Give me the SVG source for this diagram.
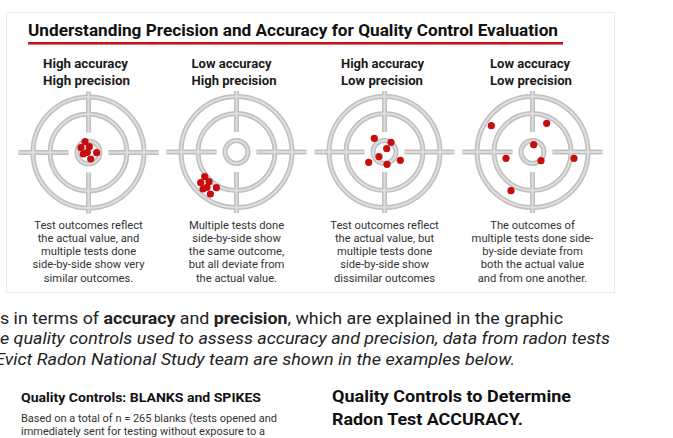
<svg xmlns="http://www.w3.org/2000/svg" xmlns:xlink="http://www.w3.org/1999/xlink" width="673" height="438" viewBox="0 0 673 438">
<style>
.rd{fill:none;stroke:#bfbfbf;stroke-width:5}
.rl{fill:none;stroke:#dedede;stroke-width:2}
.dot{fill:#c70d0d}
.title{font-family:Roboto,"Liberation Sans",sans-serif;font-weight:bold;font-size:16.5px;fill:#111}
.hd{font-family:Roboto,"Liberation Sans",sans-serif;font-weight:bold;font-size:12.5px;fill:#1a1a1a}
.desc{font-family:Roboto,"Liberation Sans",sans-serif;font-size:11.2px;fill:#333;text-anchor:middle}
.body{font-family:Roboto,"Liberation Sans",sans-serif;font-size:17px;fill:#222}
.it{font-style:italic}
.b{font-weight:bold}
.h2{font-family:Roboto,"Liberation Sans",sans-serif;font-weight:bold;font-size:12px;fill:#111}
.h1{font-family:Roboto,"Liberation Sans",sans-serif;font-weight:bold;font-size:16.5px;fill:#111}
.small{font-family:Roboto,"Liberation Sans",sans-serif;font-size:10px;fill:#333}
</style>
<defs>
<g id="target">
<g class="rd"><circle r="55.5"/><circle r="38.5"/><circle r="11.5"/><path d="M-70 0H-20M20 0H70M0-61V-20M0 20V61"/></g>
<g class="rl"><circle r="55.5"/><circle r="38.5"/><circle r="11.5"/><path d="M-70 0H-20M20 0H70M0-61V-20M0 20V61"/></g>
</g>
</defs>
<rect x="0" y="0" width="673" height="438" fill="#fff"/>
<rect id="panel" x="6.5" y="12.5" width="608" height="280" fill="#fff" stroke="#ebebeb" stroke-width="1"/>
<g id="header">
<text class="title" x="28" y="35.5" textLength="530" lengthAdjust="spacingAndGlyphs">Understanding Precision and Accuracy for Quality Control Evaluation</text>
<rect x="28" y="42" width="535" height="2.6" fill="#c8141a"/>
</g>
<g id="col1">
<text class="hd" x="43" y="68" textLength="85" lengthAdjust="spacingAndGlyphs">High accuracy</text>
<text class="hd" x="43" y="84.5" textLength="87" lengthAdjust="spacingAndGlyphs">High precision</text>
<use xlink:href="#target" href="#target" x="88.5" y="152.5"/>
<g class="dot"><circle cx="85" cy="141.7" r="3.6"/><circle cx="81" cy="147.7" r="3.6"/><circle cx="89.3" cy="146.7" r="3.6"/><circle cx="96.7" cy="152.7" r="3.6"/><circle cx="83.3" cy="154" r="3.6"/><circle cx="90.7" cy="159" r="3.6"/><circle cx="87.3" cy="152.3" r="3.6"/></g>
<text class="desc" x="88.5" y="229">Test outcomes reflect</text>
<text class="desc" x="88.5" y="242.2">the actual value, and</text>
<text class="desc" x="88.5" y="255.3">multiple tests done</text>
<text class="desc" x="88.5" y="268.4">side-by-side show very</text>
<text class="desc" x="88.5" y="281.5">similar outcomes.</text>
</g>
<g id="col2">
<text class="hd" x="191.5" y="68" textLength="80" lengthAdjust="spacingAndGlyphs">Low accuracy</text>
<text class="hd" x="191.5" y="84.5" textLength="85" lengthAdjust="spacingAndGlyphs">High precision</text>
<use xlink:href="#target" href="#target" x="236.5" y="152"/>
<g class="dot"><circle cx="204.7" cy="176.7" r="3.6"/><circle cx="200.7" cy="182.7" r="3.6"/><circle cx="209" cy="181.7" r="3.6"/><circle cx="216.4" cy="187.7" r="3.6"/><circle cx="203" cy="189" r="3.6"/><circle cx="210.4" cy="194" r="3.6"/><circle cx="207" cy="187.3" r="3.6"/></g>
<text class="desc" x="236.5" y="229">Multiple tests done</text>
<text class="desc" x="236.5" y="242.2">side-by-side show</text>
<text class="desc" x="236.5" y="255.3">the same outcome,</text>
<text class="desc" x="236.5" y="268.4">but all deviate from</text>
<text class="desc" x="236.5" y="281.5">the actual value.</text>
</g>
<g id="col3">
<text class="hd" x="341" y="68" textLength="83" lengthAdjust="spacingAndGlyphs">High accuracy</text>
<text class="hd" x="341" y="84.5" textLength="82" lengthAdjust="spacingAndGlyphs">Low precision</text>
<use xlink:href="#target" href="#target" x="384.5" y="152"/>
<g class="dot"><circle cx="374.3" cy="138.3" r="3.6"/><circle cx="391" cy="142.3" r="3.6"/><circle cx="386.7" cy="148.7" r="3.6"/><circle cx="379" cy="156.7" r="3.6"/><circle cx="368.7" cy="162.3" r="3.6"/><circle cx="387" cy="164.3" r="3.6"/><circle cx="400.3" cy="160.3" r="3.6"/></g>
<text class="desc" x="384.5" y="229">Test outcomes reflect</text>
<text class="desc" x="384.5" y="242.2">the actual value, but</text>
<text class="desc" x="384.5" y="255.3">multiple tests done</text>
<text class="desc" x="384.5" y="268.4">side-by-side show</text>
<text class="desc" x="384.5" y="281.5">dissimilar outcomes</text>
</g>
<g id="col4">
<text class="hd" x="490" y="68" textLength="80" lengthAdjust="spacingAndGlyphs">Low accuracy</text>
<text class="hd" x="490" y="84.5" textLength="82" lengthAdjust="spacingAndGlyphs">Low precision</text>
<use xlink:href="#target" href="#target" x="532.5" y="152"/>
<g class="dot"><circle cx="491.3" cy="125.7" r="3.6"/><circle cx="546.7" cy="123.3" r="3.6"/><circle cx="533.7" cy="144.7" r="3.6"/><circle cx="506" cy="158.3" r="3.6"/><circle cx="541" cy="160.7" r="3.6"/><circle cx="574" cy="158.3" r="3.6"/><circle cx="511" cy="190.7" r="3.6"/></g>
<text class="desc" x="532.5" y="229">The outcomes of</text>
<text class="desc" x="532.5" y="242.2">multiple tests done side-</text>
<text class="desc" x="532.5" y="255.3">by-side deviate from</text>
<text class="desc" x="532.5" y="268.4">both the actual value</text>
<text class="desc" x="532.5" y="281.5">and from one another.</text>
</g>
<g id="body">
<text class="body" x="0" y="323.5" textLength="563" lengthAdjust="spacingAndGlyphs">s in terms of <tspan class="b">accuracy</tspan> and <tspan class="b">precision</tspan>, which are explained in the graphic</text>
<text class="body it" x="0" y="344" textLength="610" lengthAdjust="spacingAndGlyphs">e quality controls used to assess accuracy and precision, data from radon tests</text>
<text class="body it" x="-5" y="364.5" textLength="520" lengthAdjust="spacingAndGlyphs">Evict Radon National Study team are shown in the examples below.</text>
</g>
<g id="left-section">
<text class="h2" x="21" y="402" textLength="240" lengthAdjust="spacingAndGlyphs">Quality Controls: BLANKS and SPIKES</text>
<text class="small" x="21" y="422" textLength="256" lengthAdjust="spacingAndGlyphs">Based on a total of n = 265 blanks (tests opened and</text>
<text class="small" x="21" y="435" textLength="244" lengthAdjust="spacingAndGlyphs">immediately sent for testing without exposure to a</text>
</g>
<g id="right-section">
<text class="h1" x="332" y="402" textLength="239" lengthAdjust="spacingAndGlyphs">Quality Controls to Determine</text>
<text class="h1" x="332" y="424.5" textLength="191" lengthAdjust="spacingAndGlyphs">Radon Test ACCURACY.</text>
</g>
</svg>
